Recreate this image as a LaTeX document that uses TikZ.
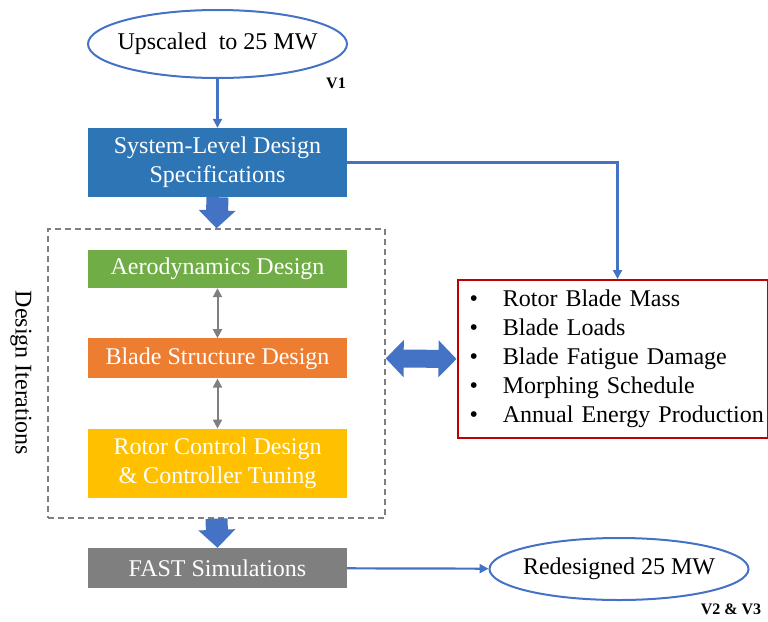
\documentclass[tikz,border=0pt]{standalone}
\usepackage{fontspec}
\setmainfont{Liberation Serif}
\usetikzlibrary{arrows.meta, positioning, shapes.geometric}

\definecolor{specblue}{RGB}{46,117,182}
\definecolor{linkblue}{RGB}{68,114,196}
\definecolor{aerogreen}{RGB}{112,173,71}
\definecolor{bladeorange}{RGB}{237,125,49}
\definecolor{rotoryellow}{RGB}{255,192,0}
\definecolor{fastgray}{RGB}{127,127,127}
\definecolor{outred}{RGB}{192,0,0}

\begin{document}
\begin{tikzpicture}[x=1pt, y=-1pt, >={Triangle[length=9pt, width=9pt]}, node distance=50pt]
    \tikzstyle{big}=[font=\fontsize{24}{29}\selectfont]
    \tikzstyle{stage}=[big, rectangle, minimum width=259pt, text=white, align=center, inner sep=0pt]
    \tikzstyle{turbine}=[big, ellipse, draw=linkblue, line width=2pt, minimum width=259pt, inner xsep=-12pt, inner ysep=0pt]
    \tikzstyle{version}=[font=\bfseries\fontsize{16}{18}\selectfont]
    \tikzstyle{link}=[->, linkblue, line width=2.2pt]
    \tikzstyle{iterlink}=[<->, fastgray, line width=2pt]
    \tikzstyle{bigarrow}=[linkblue, line width=22pt, -{Triangle[length=18pt, width=36pt]}]
    \tikzstyle{bigdouble}=[linkblue, line width=18pt, {Triangle[length=18pt, width=36pt]}-{Triangle[length=18pt, width=36pt]}]

    \useasboundingbox (0,0) rectangle (768,621);

    % Draw the turbine versions
    \node[turbine, minimum height=68pt] (up) at (217.5,44) {Upscaled\ \ to 25 MW};
    \node[version] (v1) at (336,83) {V1};

    % Draw the specification box
    \node[stage, fill=specblue, minimum height=69pt] (spec) at (217.5,162.5) {System-Level Design\\Specifications};

    % Draw the design iteration loop
    \node[draw=fastgray, line width=1.3pt, dash pattern=on 6pt off 4pt, minimum width=337pt, minimum height=289pt, inner sep=0pt] (iter) at (216.5,373.5) {};
    \node[big, rotate=-90] (iterlbl) at (21,373) {Design Iterations};
    \node[stage, fill=aerogreen, minimum height=38pt] (aero) at (217.5,269) {Aerodynamics Design};
    \node[stage, fill=bladeorange, minimum height=40pt, below=50pt of aero] (blade) {Blade Structure Design};
    \node[stage, fill=rotoryellow, minimum height=69pt, below=50pt of blade] (rotor) {Rotor Control Design\\\& Controller Tuning};

    % Draw the simulation and the redesigned turbine
    \node[stage, fill=fastgray, minimum height=40pt] (fast) at (217.5,568) {FAST Simulations};
    \node[turbine, minimum height=62pt] (redo) at (619,569) {Redesigned 25 MW};
    \node[version] (v23) at (731,609) {V2 \& V3};

    % Draw the outputs
    \node[big, draw=outred, line width=2pt, anchor=north west, inner xsep=5pt, text width=300pt, minimum height=158pt, align=left] (out) at (456.5,279)
        {\begin{tabular}{@{\hspace{7pt}}l@{\hspace{25pt}}l@{}}
         \textbullet & Rotor Blade Mass\\
         \textbullet & Blade Loads\\
         \textbullet & Blade Fatigue Damage\\
         \textbullet & Morphing Schedule\\
         \textbullet & Annual Energy Production
         \end{tabular}};

    % Connect the boxes
    \draw[link] (up) -- (spec);
    \draw[link] (spec.east) -| ([xshift=5pt]out.north);
    \draw[link] (fast) -- (redo);
    \draw[iterlink] (aero) -- (blade);
    \draw[iterlink] (blade) -- (rotor);
    \draw[bigarrow] (spec.south) -- (iter.north);
    \draw[bigarrow] (iter.south) -- (fast.north);
    \draw[bigdouble] (blade -| iter.east) -- (out.west);
\end{tikzpicture}
\end{document}
